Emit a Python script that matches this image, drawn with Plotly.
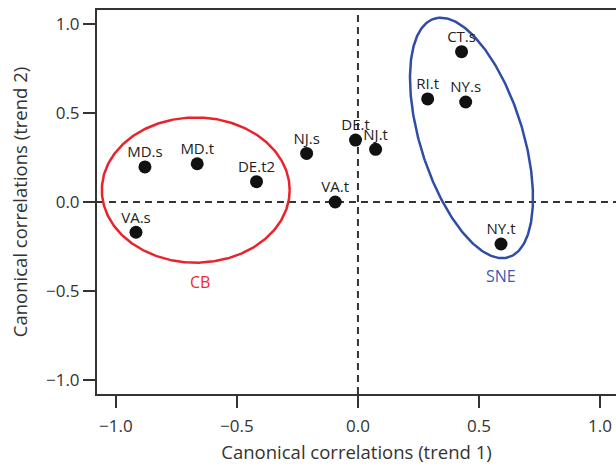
import numpy as np
import plotly.graph_objects as go

# ---- data ----
site_labels = ["MD.s", "MD.t", "DE.t2", "VA.s", "NJ.s", "DE.t", "NJ.t", "VA.t",
               "CT.s", "RI.t", "NY.s", "NY.t"]
trend1 = [-0.880, -0.664, -0.419, -0.917, -0.212, -0.010, 0.073, -0.094,
          0.428, 0.288, 0.445, 0.591]
trend2 = [0.197, 0.215, 0.114, -0.170, 0.273, 0.348, 0.296, 0.000,
          0.845, 0.579, 0.562, -0.236]

tick_vals = [-1.0, -0.5, 0.0, 0.5, 1.0]

# group ellipses: name, centre x, centre y, semi-axis a, semi-axis b, rotation (deg)
group_names = ["CB", "SNE"]
group_cx = [-0.670, 0.469]
group_cy = [0.067, 0.360]
group_a = [0.388, 0.689]
group_b = [0.408, 0.216]
group_rot = [0.0, 101.8]
group_label_x = [-0.653, 0.591]
group_label_y = [-0.450, -0.416]
group_colors = ["#e8232b", "#2f4ca6"]
group_label_colors = ["#ec2a30", "#3c5cb6"]

FONT = "Open Sans"
AXC = "#333333"

fig = go.Figure()

# ellipses
t = np.linspace(0, 2 * np.pi, 361)
for name, cx, cy, a, b, rot, col in zip(group_names, group_cx, group_cy, group_a,
                                        group_b, group_rot, group_colors):
    th = np.deg2rad(rot)
    ex = cx + a * np.cos(t) * np.cos(th) - b * np.sin(t) * np.sin(th)
    ey = cy + a * np.cos(t) * np.sin(th) + b * np.sin(t) * np.cos(th)
    fig.add_trace(go.Scatter(x=ex, y=ey, mode="lines", name=name,
                             line=dict(color=col, width=2.5),
                             hoverinfo="skip", showlegend=False))

# points
fig.add_trace(go.Scatter(
    x=trend1, y=trend2, mode="markers", text=site_labels,
    marker=dict(size=13, color="#111111"),
    showlegend=False))

# point labels (small invisible anchor marker keeps labels close to the dots)
fig.add_trace(go.Scatter(
    x=trend1, y=trend2, mode="markers+text", text=site_labels,
    textposition="top center",
    textfont=dict(family=FONT, size=15, color="#222222"),
    marker=dict(size=8, opacity=0),
    hoverinfo="skip", showlegend=False))

# group labels
for name, lx, ly, col in zip(group_names, group_label_x, group_label_y,
                             group_label_colors):
    fig.add_annotation(x=lx, y=ly, text=name, showarrow=False,
                       font=dict(family=FONT, size=16, color=col))

# dashed reference lines
fig.add_shape(type="line", xref="paper", yref="y", x0=0, x1=1, y0=0, y1=0,
              line=dict(color=AXC, width=2, dash="7px,5px"), layer="below")
fig.add_shape(type="line", xref="x", yref="paper", x0=0, x1=0, y0=0, y1=1,
              line=dict(color=AXC, width=2, dash="7px,5px"), layer="below")

axis_common = dict(
    showgrid=False, zeroline=False, showline=True, linecolor=AXC, linewidth=2,
    ticks="outside", ticklen=12, tickwidth=2, tickcolor=AXC,
    tickvals=tick_vals, tickformat=".1f", automargin=False,
    tickfont=dict(family=FONT, size=17, color=AXC),
)

fig.update_layout(
    width=616, height=467,
    margin=dict(l=97, r=0, t=10, b=73),
    plot_bgcolor="white", paper_bgcolor="white",
    showlegend=False,
    xaxis=dict(range=[-1.078, 1.066], mirror=True, ticklabelstandoff=4,
               title=dict(text="Canonical correlations (trend 1)",
                          font=dict(family=FONT, size=18.5, color=AXC), standoff=10),
               **axis_common),
    yaxis=dict(range=[-1.079, 1.079],
               title=dict(text="Canonical correlations (trend 2)",
                          font=dict(family=FONT, size=18.5, color=AXC), standoff=13),
               **axis_common),
)

fig.write_html(
    "out.html",
    config={"displayModeBar": False},
    post_script="document.body.style.margin='0';document.body.style.overflow='hidden';",
)
